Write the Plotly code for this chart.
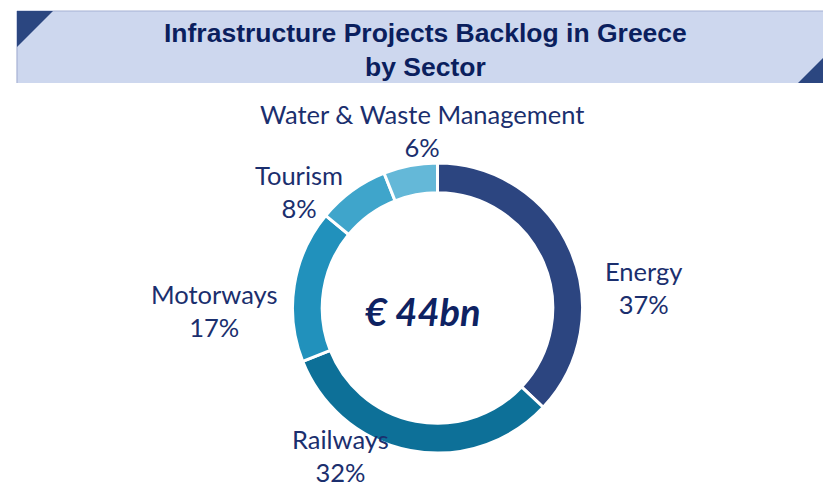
import plotly.graph_objects as go

W, H = 823, 489

sectors = ["Energy", "Railways", "Motorways", "Tourism", "Water & Waste Management"]
shares = [37, 32, 17, 8, 6]
colors = ["#2C4580", "#0D7098", "#2191BC", "#3FA5CB", "#64B8D8"]
title_lines = ["Infrastructure Projects Backlog in Greece", "by Sector"]
center_text = "€ 44bn"
label_pos_px = {  # text anchor centres, pixels
    "Energy": (643, 287),
    "Railways": (340, 455),
    "Motorways": (214, 310),
    "Tourism": (299, 192),
    "Water & Waste Management": (422, 131),
}

def px(x, y):
    return x / W, 1 - y / H

cx, cy, r = 437.5, 308, 145
dx0, dy0 = px(cx - r, cy + r)
dx1, dy1 = px(cx + r, cy - r)

fig = go.Figure(go.Pie(
    labels=sectors, values=shares, sort=False, direction="clockwise", rotation=0,
    hole=0.795, textinfo="none", hoverinfo="label+percent",
    marker=dict(colors=colors, line=dict(color="white", width=3)),
    domain=dict(x=[dx0, dx1], y=[dy0, dy1]), showlegend=False,
))

shapes = []
bx0, by0 = px(17, 11)
bx1, by1 = px(823, 83)
shapes.append(dict(type="rect", xref="paper", yref="paper", x0=bx0, y0=by1, x1=bx1, y1=by0,
                   fillcolor="#CDD7EE", line=dict(width=0), layer="below"))
shapes.append(dict(type="line", xref="paper", yref="paper", x0=bx0, y0=by0, x1=bx1, y1=by0,
                   line=dict(color="#A6B1D4", width=1.2)))
shapes.append(dict(type="line", xref="paper", yref="paper", x0=bx0, y0=by0, x1=bx0, y1=by1,
                   line=dict(color="#A6B1D4", width=1.2)))
def tri(pts):
    p = [px(*q) for q in pts]
    path = "M {} {} L {} {} L {} {} Z".format(p[0][0], p[0][1], p[1][0], p[1][1], p[2][0], p[2][1])
    return dict(type="path", xref="paper", yref="paper", path=path, fillcolor="#2B4680", line=dict(width=0))
shapes.append(tri([(17, 11), (53, 11), (17, 47)]))
shapes.append(tri([(798, 83), (823, 83), (823, 58)]))

annotations = []
tx, ty = px(425, 50)
annotations.append(dict(text="<b>" + "<br>".join(title_lines) + "</b>", x=tx, y=ty, xref="paper", yref="paper",
                        showarrow=False, align="center",
                        font=dict(family="Liberation Sans", size=26.5, color="#0B1F5E"),
                        xanchor="center", yanchor="middle"))
for s, v in zip(sectors, shares):
    lx, ly = px(*label_pos_px[s])
    annotations.append(dict(text=f"{s}<br>{v}%", x=lx, y=ly, xref="paper", yref="paper",
                            showarrow=False, align="center", borderpad=0,
                            font=dict(family="Lato", size=25.5, color="#1B2F6E"),
                            xanchor="center", yanchor="middle"))
ccx, ccy = px(423, 311)
annotations.append(dict(text=f"<b><i>{center_text}</i></b>", x=ccx, y=ccy, xref="paper", yref="paper",
                        showarrow=False, font=dict(family="Lato", size=38, color="#0E2262"),
                        xanchor="center", yanchor="middle"))

fig.update_layout(width=W, height=H, margin=dict(l=0, r=0, t=0, b=0),
                  paper_bgcolor="white", plot_bgcolor="white",
                  shapes=shapes, annotations=annotations)
fig.write_html("out.html", config={"displayModeBar": False},
               post_script="document.body.style.margin='0';")
